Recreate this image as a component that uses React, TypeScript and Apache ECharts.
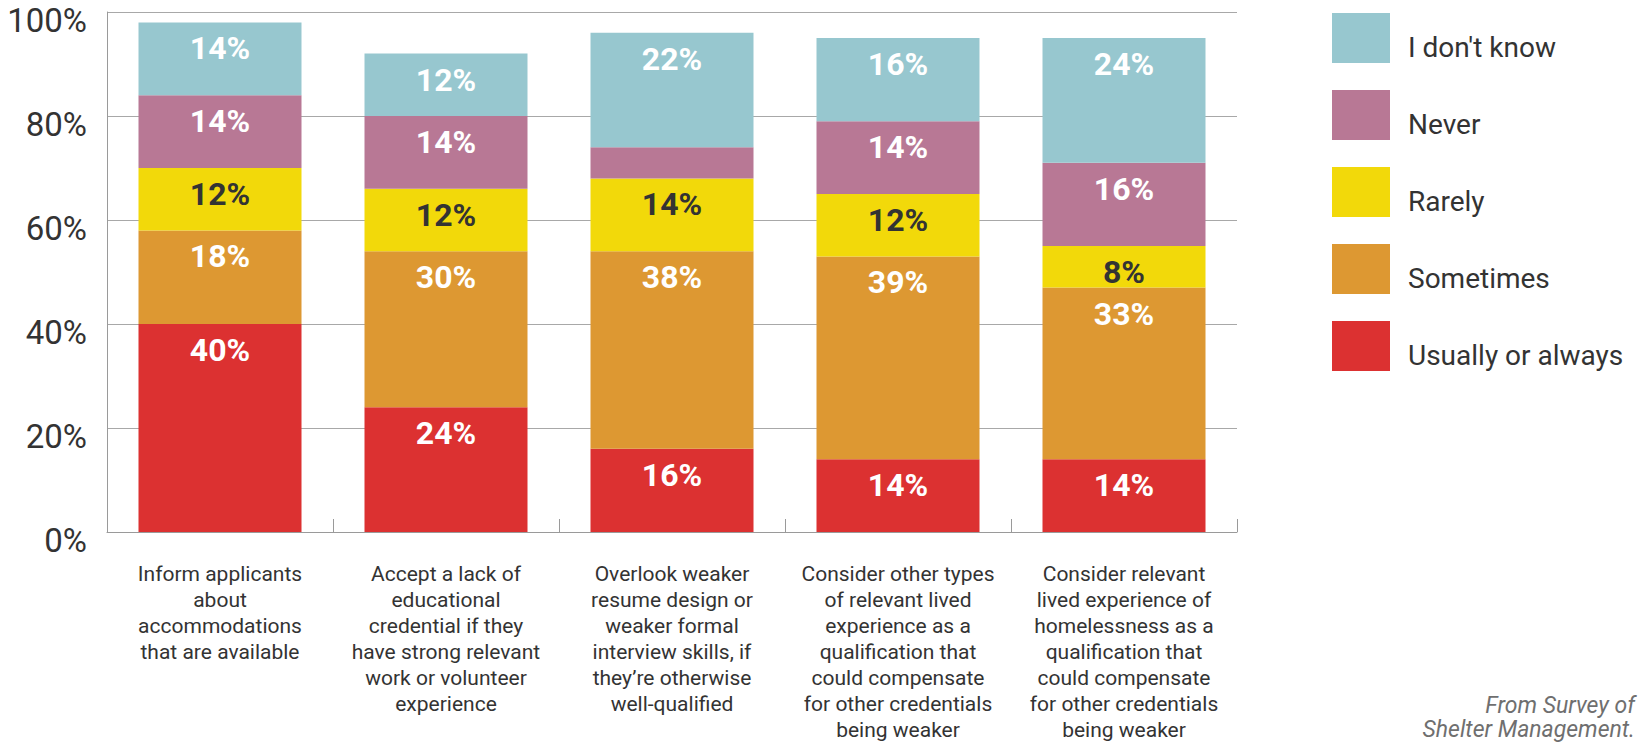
import React, { useEffect, useRef } from "react";
import * as echarts from "echarts";

const categories = [
  "Inform applicants\nabout\naccommodations\nthat are available",
  "Accept a lack of\neducational\ncredential if they\nhave strong relevant\nwork or volunteer\nexperience",
  "Overlook weaker\nresume design or\nweaker formal\ninterview skills, if\nthey’re otherwise\nwell-qualified",
  "Consider other types\nof relevant lived\nexperience as a\nqualification that\ncould compensate\nfor other credentials\nbeing weaker",
  "Consider relevant\nlived experience of\nhomelessness as a\nqualification that\ncould compensate\nfor other credentials\nbeing weaker",
];

const usuallyOrAlways = [40, 24, 16, 14, 14];
const sometimes = [18, 30, 38, 39, 33];
const rarely = [12, 12, 14, 12, 8];
const never = [14, 14, 6, 14, 16];
const dontKnow = [14, 12, 22, 16, 24];

const yTicks = [0, 20, 40, 60, 80, 100];
const sourceNote = "From Survey of\nShelter Management.";

const FONT = "Roboto, 'Noto Sans', sans-serif";

export default function App() {
  const ref = useRef<HTMLDivElement>(null);

  useEffect(() => {
    if (!ref.current) return;
    const chart = echarts.init(ref.current, undefined, { renderer: "svg" });

    const mk = (name: string, data: number[], color: string, labelColor: string, hideSmall = false) => ({
      name,
      type: "bar",
      stack: "total",
      barWidth: 163,
      data: data.map((v) =>
        hideSmall && v < 7 ? { value: v, label: { show: false } } : v
      ),
      itemStyle: { color },
      label: {
        show: true,
        position: "insideTop",
        distance: 10,
        formatter: "{c}%",
        color: labelColor,
        fontSize: 32,
        fontWeight: "bold",
        fontFamily: FONT,
      },
    });

    chart.setOption({
      animation: false,
      backgroundColor: "#ffffff",
      textStyle: { fontFamily: FONT },
      grid: { left: 107, right: 407, top: 12, bottom: 211 },
      legend: {
        orient: "vertical",
        left: 1332,
        top: 13,
        padding: 0,
        itemWidth: 58,
        itemHeight: 50,
        itemGap: 27,
        icon: "rect",
        data: ["I don't know", "Never", "Rarely", "Sometimes", "Usually or always"],
        formatter: (name: string) => "{t|" + name + "}",
        textStyle: {
          fontSize: 28,
          color: "#333333",
          fontFamily: FONT,
          rich: {
            t: {
              fontSize: 28,
              color: "#333333",
              fontFamily: FONT,
              padding: [18, 0, 0, 13],
            },
          },
        },
      },
      xAxis: {
        type: "category",
        data: categories,
        axisLine: { show: true, lineStyle: { color: "#9a9a9a", width: 1 } },
        axisTick: { show: true, inside: true, length: 13, lineStyle: { color: "#9a9a9a" } },
        axisLabel: {
          interval: 0,
          margin: 29,
          fontSize: 21,
          lineHeight: 26,
          color: "#333333",
          fontFamily: FONT,
        },
      },
      yAxis: {
        type: "value",
        min: 0,
        max: 100,
        interval: 20,
        axisLine: { show: true, lineStyle: { color: "#9a9a9a", width: 1 } },
        axisTick: { show: false },
        splitLine: { show: true, lineStyle: { color: "#a8a8a8", width: 1 } },
        axisLabel: {
          margin: 20,
          fontSize: 33,
          color: "#333333",
          fontFamily: FONT,
          verticalAlign: "top",
          lineHeight: 16,
          formatter: (v: number) => (yTicks.includes(v) ? v + "%" : ""),
        },
      },
      series: [
        mk("Usually or always", usuallyOrAlways, "#DC3131", "#ffffff"),
        mk("Sometimes", sometimes, "#DD9832", "#ffffff"),
        mk("Rarely", rarely, "#F2D90A", "#333333"),
        mk("Never", never, "#B87895", "#ffffff", true),
        mk("I don't know", dontKnow, "#97C7CF", "#ffffff"),
      ],
      graphic: [
        {
          type: "text",
          right: 9,
          top: 693,
          style: {
            text: sourceNote,
            textAlign: "right",
            font: "italic 23px " + FONT,
            lineHeight: 24,
            fill: "#6f6f6f",
          },
        },
      ],
    });

    return () => chart.dispose();
  }, []);

  return (
    <div
      ref={ref}
      style={{ position: "fixed", left: 0, top: 0, width: 1644, height: 743, background: "#fff" }}
    />
  );
}
